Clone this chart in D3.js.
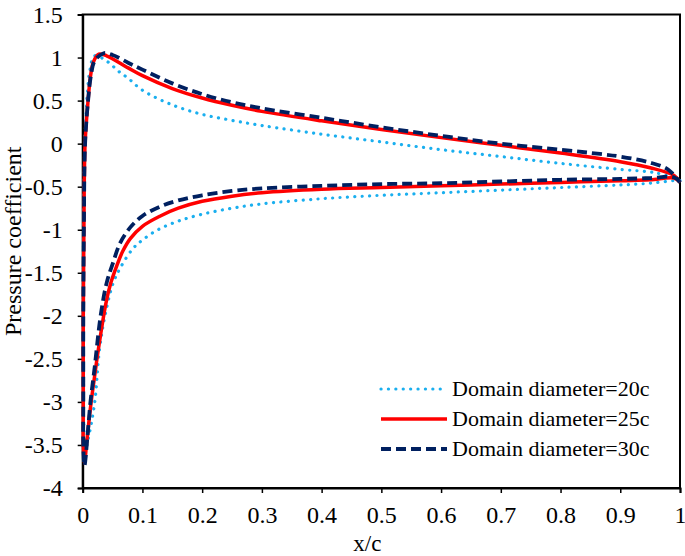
<!DOCTYPE html>
<html>
<head>
<meta charset="utf-8">
<script src="https://cdn.jsdelivr.net/npm/d3@7/dist/d3.min.js"></script>
<style>
  html, body { margin: 0; padding: 0; background: #fff; }
  svg text { font-family: "Liberation Serif", "Times New Roman", serif; fill: #000; }
</style>
</head>
<body>
<svg id="chart" width="685" height="556"></svg>
<script>
// ---- data ----
const xTicks = [0, 0.1, 0.2, 0.3, 0.4, 0.5, 0.6, 0.7, 0.8, 0.9, 1];
const yTicks = [-4, -3.5, -3, -2.5, -2, -1.5, -1, -0.5, 0, 0.5, 1, 1.5];
const seriesNames = ["Domain diameter=20c", "Domain diameter=25c", "Domain diameter=30c"];

// Each series: a loop from trailing edge along the suction side, round the leading edge, back along the pressure side
const x20  = [1.0, 0.99, 0.95, 0.9, 0.8, 0.7, 0.6, 0.5, 0.4, 0.3, 0.25, 0.2, 0.16, 0.126, 0.1, 0.084, 0.064, 0.051, 0.037, 0.028, 0.02, 0.009, 0.005,
              0.002, 0.001, 0.001, 0.002, 0.004, 0.008, 0.012, 0.02,
              0.042, 0.06, 0.076, 0.1, 0.15, 0.2, 0.25, 0.3, 0.4, 0.5, 0.6, 0.7, 0.8, 0.9, 0.96, 1.0];
const cp20 = [-0.43, -0.43, -0.46, -0.48, -0.51, -0.54, -0.57, -0.60, -0.64, -0.70, -0.75, -0.82, -0.90, -1.0, -1.12, -1.22, -1.43, -1.62, -2.01, -2.40, -3.01, -3.44, -3.55,
              -3.3, -2.5, -1.5, -0.6, 0.1, 0.6, 0.85, 1.02,
              0.95, 0.84, 0.76, 0.62, 0.45, 0.34, 0.27, 0.21, 0.11, 0.02, -0.07, -0.15, -0.23, -0.30, -0.34, -0.42];

const x25  = [1.0, 0.99, 0.95, 0.9, 0.8, 0.7, 0.6, 0.5, 0.4, 0.3, 0.25, 0.2, 0.16, 0.13, 0.1, 0.08, 0.067, 0.057, 0.047, 0.039, 0.026, 0.02, 0.014, 0.007, 0.003,
              0.001, 0.001, 0.001, 0.002, 0.004, 0.009, 0.013, 0.018, 0.027,
              0.04, 0.076, 0.1, 0.15, 0.2, 0.25, 0.3, 0.4, 0.5, 0.6, 0.7, 0.8, 0.9, 0.95, 0.99, 1.0];
const cp25 = [-0.45, -0.40, -0.42, -0.43, -0.45, -0.47, -0.49, -0.51, -0.53, -0.57, -0.61, -0.67, -0.75, -0.84, -0.96, -1.10, -1.25, -1.42, -1.62, -1.85, -2.40, -2.7, -3.01, -3.45, -3.71,
              -3.5, -3.0, -2.0, -1.0, 0.0, 0.5, 0.78, 0.95, 1.04,
              1.02, 0.88, 0.79, 0.64, 0.53, 0.445, 0.375, 0.265, 0.165, 0.07, -0.02, -0.11, -0.21, -0.28, -0.37, -0.45];

const x30  = [1.0, 0.99, 0.95, 0.9, 0.8, 0.7, 0.6, 0.5, 0.4, 0.3, 0.25, 0.2, 0.16, 0.13, 0.1, 0.08, 0.063, 0.05, 0.04, 0.03, 0.02, 0.013, 0.008, 0.003,
              0.001, 0.001, 0.001, 0.002, 0.004, 0.009, 0.014, 0.02, 0.035,
              0.05, 0.076, 0.1, 0.15, 0.2, 0.25, 0.3, 0.4, 0.5, 0.6, 0.7, 0.8, 0.866, 0.9, 0.95, 0.98, 1.0];
const cp30 = [-0.45, -0.39, -0.40, -0.41, -0.42, -0.44, -0.46, -0.47, -0.49, -0.52, -0.55, -0.60, -0.66, -0.73, -0.84, -0.97, -1.15, -1.40, -1.62, -2.0, -2.6, -3.0, -3.4, -3.74,
              -3.5, -3.0, -2.0, -1.0, 0.0, 0.5, 0.8, 0.96, 1.05,
              1.03, 0.94, 0.86, 0.70, 0.575, 0.48, 0.41, 0.30, 0.19, 0.09, 0.0, -0.07, -0.12, -0.15, -0.22, -0.30, -0.45];

const seriesX = [x20, x25, x30];
const seriesCp = [cp20, cp25, cp30];
const colors = ["#1AAFEF", "#FF0000", "#002060"];
const widths = [3.2, 3.5, 3.8];
const dashes = ["0.1 7.3", null, "10 5"];

// ---- layout ----
const svg = d3.select("#chart").attr("font-family", "Liberation Serif");
const L = 82.7, R = 680, T = 14.5, B = 488;
const x = d3.scaleLinear().domain([0, 1]).range([L, R]);
const y = d3.scaleLinear().domain([-4, 1.5]).range([B, T]);
const fmt = d => String(+d.toFixed(1));

// frame
svg.append("rect").attr("x", L).attr("y", T).attr("width", R - L).attr("height", B - T)
  .attr("fill", "none").attr("stroke", "#000").attr("stroke-width", 2);

// axes
const xAxis = svg.append("g").attr("transform", `translate(0,${B})`)
  .call(d3.axisBottom(x).tickValues(xTicks).tickFormat(fmt).tickSize(5).tickPadding(13));
const yAxis = svg.append("g").attr("transform", `translate(${L},0)`)
  .call(d3.axisLeft(y).tickValues(yTicks).tickFormat(fmt).tickSize(5).tickPadding(15));
[xAxis, yAxis].forEach(g => {
  g.attr("font-family", "Liberation Serif");
  g.select(".domain").attr("stroke", "#000").attr("stroke-width", 2);
  g.selectAll(".tick line").attr("stroke", "#000").attr("stroke-width", 1.5);
  g.selectAll(".tick text").attr("font-family", "Liberation Serif").attr("font-size", 24).attr("fill", "#000");
});

// axis titles
svg.append("text").attr("x", (L + R) / 2 - 14).attr("y", 551).attr("text-anchor", "middle")
  .attr("font-size", 23).text("x/c");
svg.append("text").attr("transform", `translate(21,${(T + B) / 2 - 10}) rotate(-90)`)
  .attr("text-anchor", "middle").attr("font-size", 24).text("Pressure coefficient");

// curves
const line = d3.line().x(d => x(d[0])).y(d => y(d[1])).curve(d3.curveCatmullRom.alpha(0.5));
seriesX.forEach((xs, i) => {
  const pts = xs.map((v, j) => [v, seriesCp[i][j]]);
  const p = svg.append("path").attr("d", line(pts)).attr("fill", "none")
    .attr("stroke", colors[i]).attr("stroke-width", widths[i])
    .attr("stroke-linejoin", "round");
  if (dashes[i]) p.attr("stroke-dasharray", dashes[i]);
  if (i === 0) p.attr("stroke-linecap", "round");
});

// legend
const legY = [389, 419, 449];
seriesNames.forEach((name, i) => {
  const l = svg.append("line").attr("x1", 381).attr("x2", 447).attr("y1", legY[i]).attr("y2", legY[i])
    .attr("stroke", colors[i]).attr("stroke-width", widths[i]);
  if (dashes[i]) l.attr("stroke-dasharray", dashes[i]);
  if (i === 0) l.attr("stroke-linecap", "round");
  svg.append("text").attr("x", 452).attr("y", legY[i] + 7).attr("font-size", 22).text(name);
});
</script>
</body>
</html>
